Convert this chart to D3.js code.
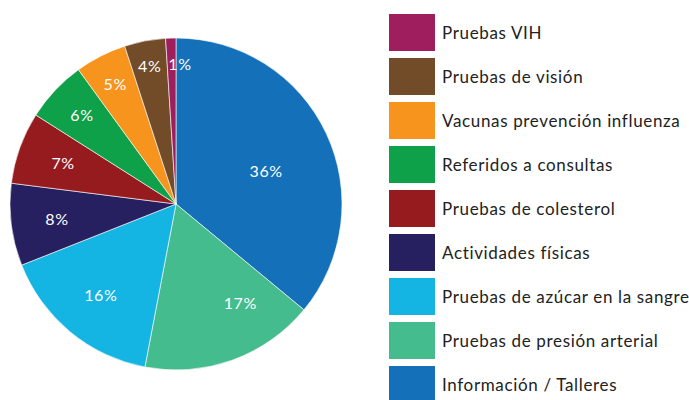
<!DOCTYPE html>
<html>
<head>
<meta charset="utf-8">
<script src="https://cdn.jsdelivr.net/npm/d3@7/dist/d3.min.js"></script>
<style>
  body { margin: 0; background: #fff; }
  svg { display: block; font-family: "Lato", "Noto Sans", sans-serif; }
  .legend text { fill: #222; font-size: 17px; letter-spacing: 0.65px; }
  .pct { fill: #fff; font-size: 16px; letter-spacing: 0.6px; }
</style>
</head>
<body>
<div id="chart"></div>
<script>
  // slice order, clockwise from 12 o'clock
  var categories = ['Información / Talleres', 'Pruebas de presión arterial', 'Pruebas de azúcar en la sangre',
    'Actividades físicas', 'Pruebas de colesterol', 'Referidos a consultas',
    'Vacunas prevención influenza', 'Pruebas de visión', 'Pruebas VIH'];
  var values = [36, 17, 16, 8, 7, 6, 5, 4, 1];
  var colors = ['#1470b8', '#45bc8d', '#14b4e3', '#262060', '#961b1f', '#0fa04a', '#f7941d', '#724b29', '#9f1f5e'];

  var width = 689, height = 400;
  var cx = 176, cy = 204, radius = 166;

  var svg = d3.select('#chart').append('svg')
    .attr('width', width)
    .attr('height', height);

  var data = categories.map(function (c, i) { return { name: c, value: values[i], color: colors[i] }; });

  var pie = d3.pie().sort(null).value(function (d) { return d.value; });
  var arc = d3.arc().innerRadius(0).outerRadius(radius);
  var arcs = pie(data);

  var g = svg.append('g').attr('transform', 'translate(' + cx + ',' + cy + ')');

  g.selectAll('path')
    .data(arcs).enter().append('path')
    .attr('d', arc)
    .attr('fill', function (d) { return d.data.color; })
    .attr('stroke', '#fff')
    .attr('stroke-width', 0.6);

  // labels sit further out on thin slices
  var nudge = { 0: 0.09, 1: -0.23, 8: 0.06 };
  g.selectAll('text.pct')
    .data(arcs).enter().append('text')
    .attr('class', 'pct')
    .attr('text-anchor', 'middle')
    .attr('dy', '0.35em')
    .attr('transform', function (d, i) {
      var a = (d.startAngle + d.endAngle) / 2 + (nudge[i] || 0);
      var r = d.data.value >= 30 ? 96 : d.data.value >= 10 ? 118 : d.data.value >= 7 ? 120 : d.data.value >= 6 ? 129 : d.data.value >= 5 ? 134 : 140;
      return 'translate(' + (Math.sin(a) * r) + ',' + (-Math.cos(a) * r) + ')';
    })
    .text(function (d) { return d.data.value + '%'; });

  // legend, top to bottom is reverse slice order
  var legendData = data.slice().reverse();
  var legend = svg.append('g').attr('class', 'legend')
    .attr('transform', 'translate(389,14)');

  var row = legend.selectAll('g')
    .data(legendData).enter().append('g')
    .attr('transform', function (d, i) { return 'translate(0,' + (i * 44) + ')'; });

  row.append('rect')
    .attr('width', 46)
    .attr('height', 37)
    .attr('fill', function (d) { return d.color; });

  row.append('text')
    .attr('x', 53)
    .attr('y', 19)
    .attr('dy', '0.35em')
    .text(function (d) { return d.name; });
</script>
</body>
</html>
